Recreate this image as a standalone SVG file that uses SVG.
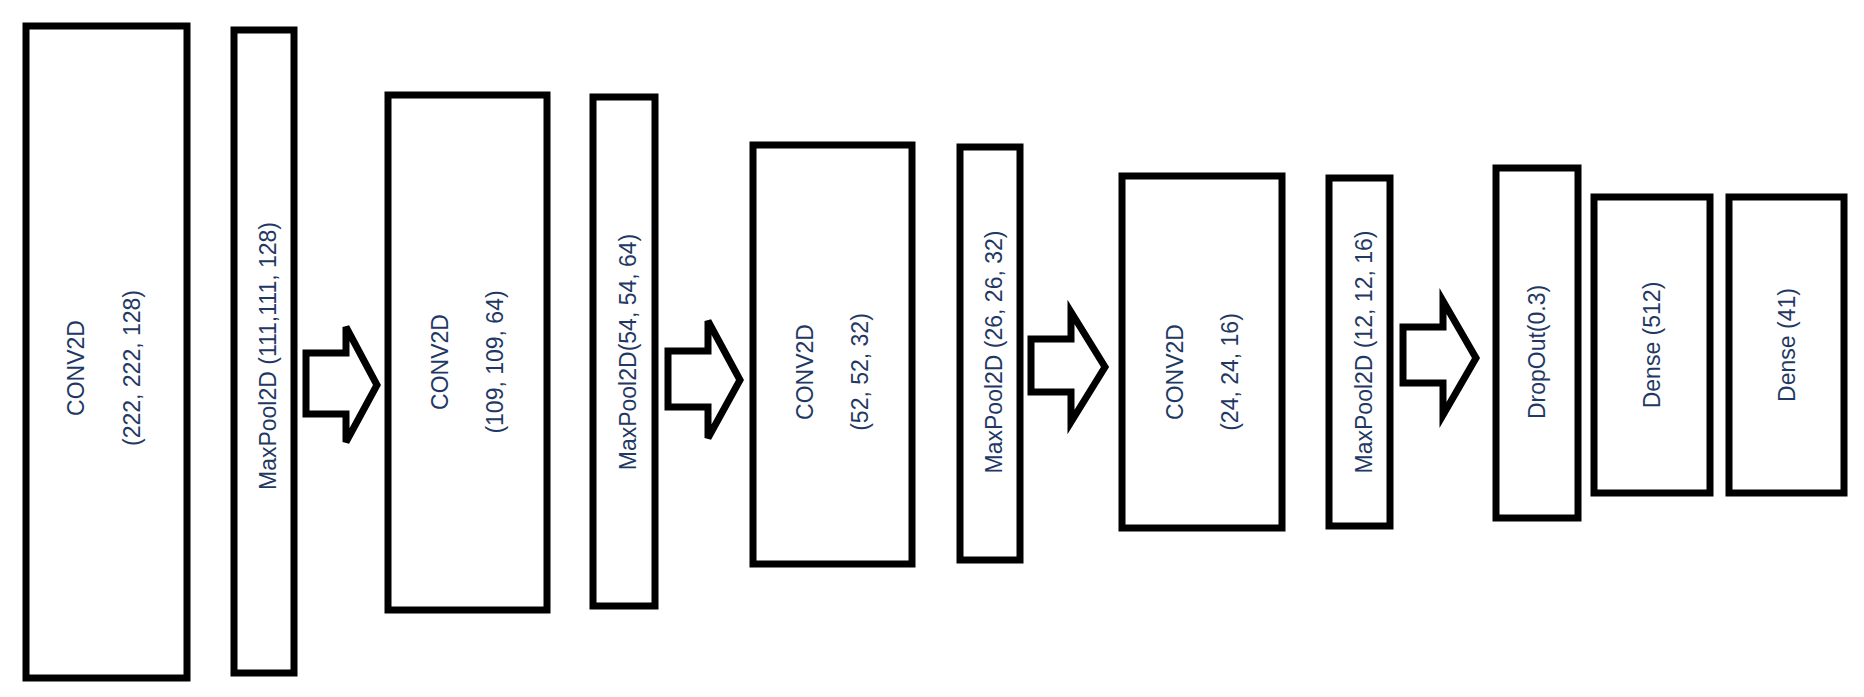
<svg xmlns="http://www.w3.org/2000/svg" width="1864" height="697" viewBox="0 0 1864 697">
<style>
.b{fill:#fff;stroke:#000;stroke-width:7}
.a{fill:#fff;stroke:#000;stroke-width:7;stroke-linejoin:miter}
text{font-family:"Liberation Sans",Arial,sans-serif;font-size:23px;fill:#1f3864;text-anchor:middle}
</style>
<rect width="1864" height="697" fill="#fff"/>
<g id="connectors">
<polygon class="a" points="306,353 346,353 346,327 377,385 346,442 346,414 306,414"/>
<polygon class="a" points="668,351 708,351 708,321 740,380 708,438 708,407 668,407"/>
<polygon class="a" points="1031,339 1071,339 1071,312 1105,367 1071,422 1071,392 1031,392"/>
<polygon class="a" points="1403,327 1443,327 1443,301 1476,358 1443,415 1443,383 1403,383"/>
</g>
<g id="conv1"><rect class="b" x="26" y="26" width="161" height="652"/>
<text transform="translate(106,368) rotate(-90)"><tspan x="0" y="-22">CONV2D</tspan><tspan x="0" y="34">(222, 222, 128)</tspan></text></g>
<g id="pool1"><rect class="b" x="234" y="30" width="60" height="643"/>
<text transform="translate(264,356) rotate(-90)" y="12">MaxPool2D (111,111, 128)</text></g>
<g id="conv2"><rect class="b" x="388" y="95" width="159" height="515"/>
<text transform="translate(467,362) rotate(-90)"><tspan x="0" y="-19">CONV2D</tspan><tspan x="0" y="36">(109, 109, 64)</tspan></text></g>
<g id="pool2"><rect class="b" x="593" y="97" width="62" height="509"/>
<text transform="translate(624,352) rotate(-90)" y="12">MaxPool2D(54, 54, 64)</text></g>
<g id="conv3"><rect class="b" x="753" y="145" width="159" height="419"/>
<text transform="translate(832,372) rotate(-90)"><tspan x="0" y="-19">CONV2D</tspan><tspan x="0" y="36">(52, 52, 32)</tspan></text></g>
<g id="pool3"><rect class="b" x="960" y="147" width="60" height="413"/>
<text transform="translate(990,352) rotate(-90)" y="12">MaxPool2D (26, 26, 32)</text></g>
<g id="conv4"><rect class="b" x="1122" y="176" width="160" height="352"/>
<text transform="translate(1202,372) rotate(-90)"><tspan x="0" y="-19">CONV2D</tspan><tspan x="0" y="36">(24, 24, 16)</tspan></text></g>
<g id="pool4"><rect class="b" x="1329" y="178" width="61" height="348"/>
<text transform="translate(1360,352) rotate(-90)" y="12">MaxPool2D (12, 12, 16)</text></g>
<g id="dropout"><rect class="b" x="1496" y="168" width="82" height="350"/>
<text transform="translate(1537,352) rotate(-90)" y="8">DropOut(0.3)</text></g>
<g id="dense1"><rect class="b" x="1594" y="197" width="116" height="296"/>
<text transform="translate(1652,345) rotate(-90)" y="8">Dense (512)</text></g>
<g id="dense2"><rect class="b" x="1729" y="197" width="115" height="296"/>
<text transform="translate(1787,345) rotate(-90)" y="8">Dense (41)</text></g>
</svg>
